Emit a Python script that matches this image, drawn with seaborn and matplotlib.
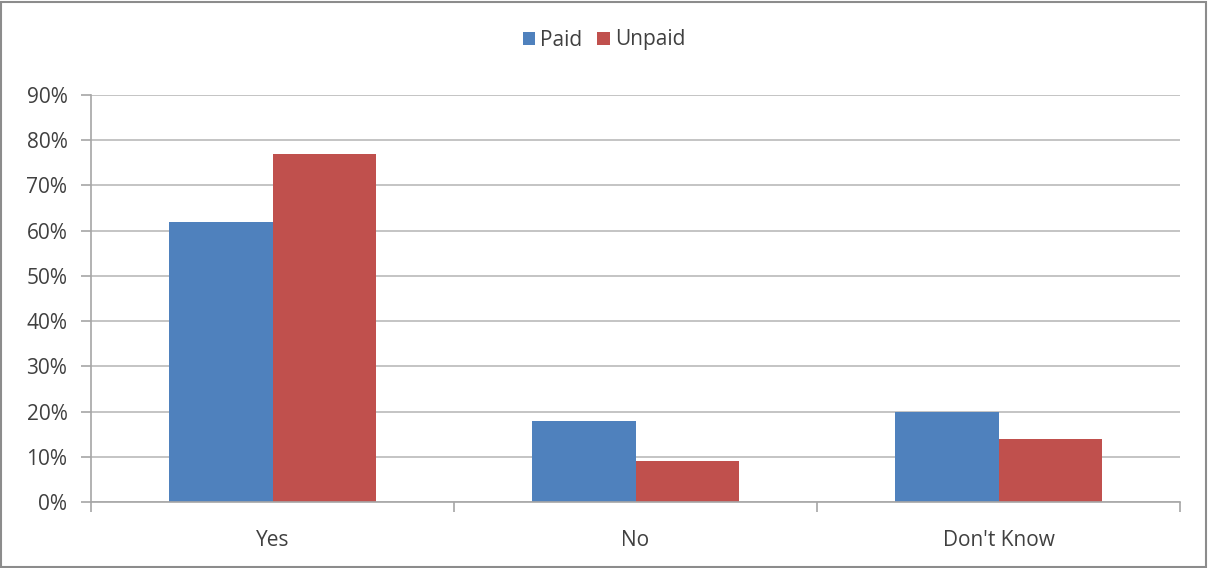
import matplotlib
matplotlib.use("Agg")
import matplotlib.pyplot as plt
import seaborn as sns
import pandas as pd
from matplotlib.ticker import PercentFormatter, FixedLocator
from matplotlib.patches import Rectangle

categories = ["Yes", "No", "Don't Know"]
paid = [62, 18, 20]
unpaid = [77, 9, 14]
series_names = ["Paid", "Unpaid"]
yticks = [0, 10, 20, 30, 40, 50, 60, 70, 80, 90]

df = pd.DataFrame({
    "category": categories * 2,
    "value": paid + unpaid,
    "series": [series_names[0]] * 3 + [series_names[1]] * 3,
})

sns.set_style("white")
plt.rcParams['font.family'] = ['Open Sans', 'DejaVu Sans']

fig = plt.figure(figsize=(12.08, 5.68), dpi=100)
ax = fig.add_axes([91/1208, 66/568, (1180-91)/1208, (502-95)/568])

sns.barplot(data=df, x="category", y="value", hue="series",
            palette=["#4F81BD", "#C0504D"], width=0.57, ax=ax,
            saturation=1, legend=True, linewidth=0, edgecolor="none")

ax.set_ylim(0, 90)
ax.set_xlim(-0.5, 2.5)
ax.set_yticks(yticks)
ax.yaxis.set_major_formatter(PercentFormatter(decimals=0))
ax.yaxis.grid(True, color="#BFBFBF", linewidth=1.3)
ax.set_axisbelow(True)
ax.set_xlabel("")
ax.set_ylabel("")
for s in ["top", "right"]:
    ax.spines[s].set_visible(False)
ax.spines["left"].set_color("#A6A6A6")
ax.spines["bottom"].set_color("#A6A6A6")
ax.spines["left"].set_linewidth(1.2)
ax.spines["bottom"].set_linewidth(1.2)

ax.tick_params(axis="y", length=7, color="#A6A6A6", width=1.2, labelsize=15,
               labelcolor="#404040", pad=10, left=True)
ax.tick_params(axis="x", which="major", length=0, labelsize=15,
               labelcolor="#404040", pad=20)
ax.xaxis.set_minor_locator(FixedLocator([-0.5, 0.5, 1.5, 2.5]))
ax.tick_params(axis="x", which="minor", length=7, color="#A6A6A6", width=1.2, bottom=True)

handles, labels = ax.get_legend_handles_labels()
ax.legend(handles, labels, loc="center", bbox_to_anchor=(0.5, (568-40)/568),
          bbox_transform=fig.transFigure, ncol=2, frameon=False,
          fontsize=15, handlelength=0.6, handleheight=0.6, handletextpad=0.25,
          columnspacing=0.7, labelcolor="#404040")

fig.patches.append(Rectangle((0.001, 0.002), 0.997, 0.995, transform=fig.transFigure,
                             fill=False, edgecolor="#8C8C8C", linewidth=1.5))

fig.savefig("out.png", dpi=100)
